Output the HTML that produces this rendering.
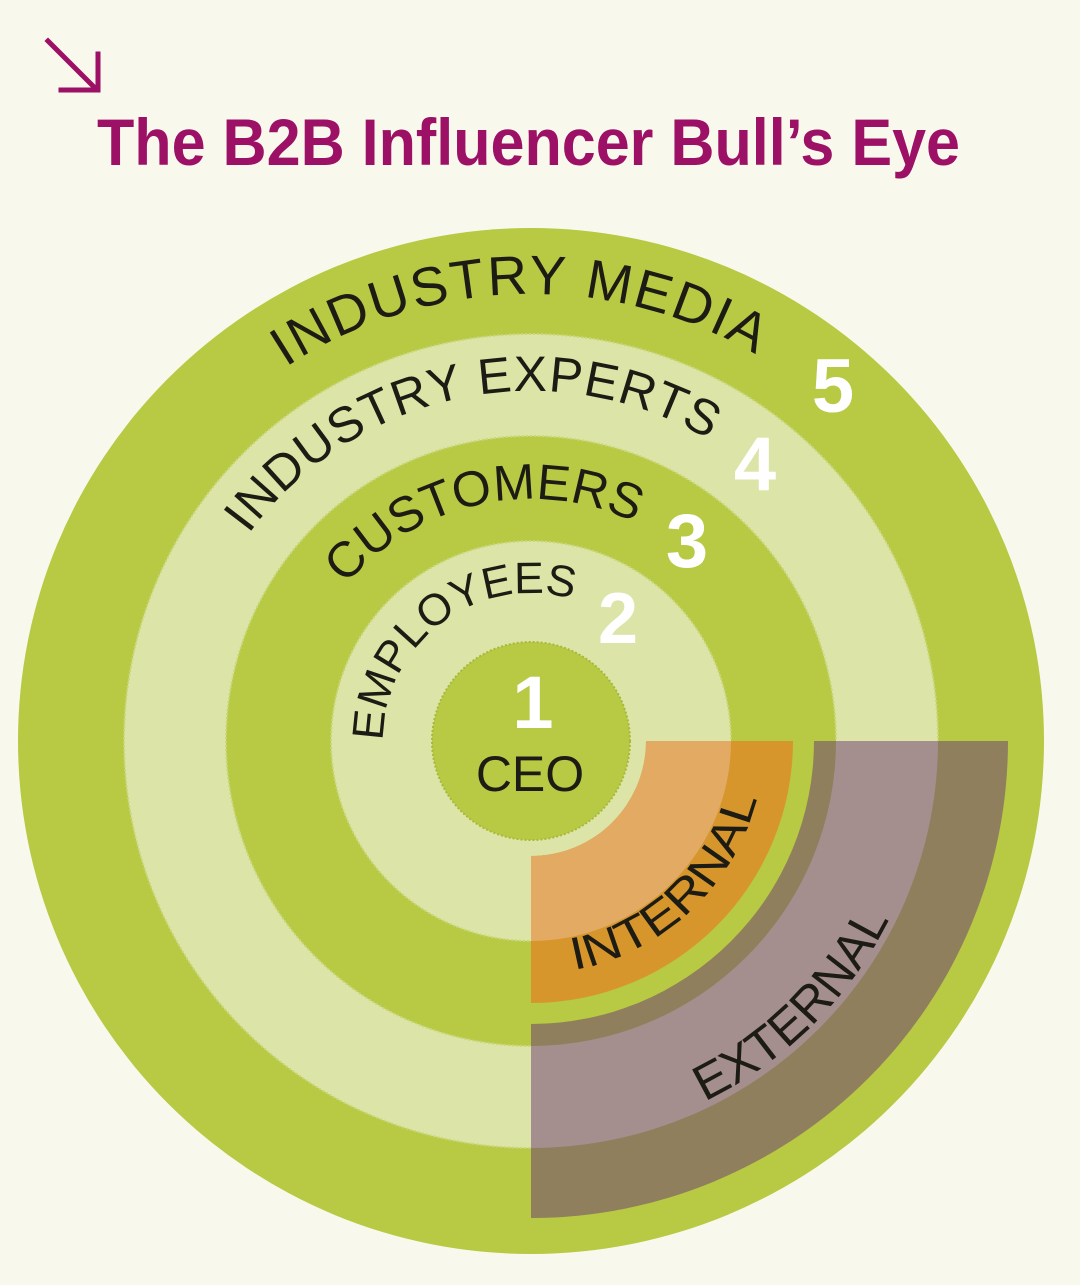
<!DOCTYPE html>
<html><head><meta charset="utf-8"><style>
html,body{margin:0;padding:0;background:#f8f9ec;}
svg{display:block;}
text{font-family:"Liberation Sans",sans-serif;}
</style></head><body>
<svg width="1080" height="1285" viewBox="0 0 1080 1285" xmlns="http://www.w3.org/2000/svg">
<rect width="1080" height="1285" fill="#f8f9ec"/>
<g stroke="#9c1065" stroke-width="5" fill="none" stroke-linecap="square">
<line x1="48" y1="41" x2="96" y2="89"/>
<polyline points="61,90 98,90 98,54"/>
</g>
<text x="97" y="165" font-size="66" fill="#9c1065" font-weight="bold" textLength="863" lengthAdjust="spacingAndGlyphs">The B2B Influencer Bull’s Eye</text>

<defs>
<path id="p5" d="M531,1188 A447,447 0 1 1 531,294 A447,447 0 1 1 531,1188"/>
<path id="p4" d="M531,1091 A350,350 0 1 1 531,391 A350,350 0 1 1 531,1091"/>
<path id="p3" d="M531,983 A242,242 0 1 1 531,499 A242,242 0 1 1 531,983"/>
<path id="p2" d="M531,889 A148,148 0 1 1 531,593 A148,148 0 1 1 531,889"/>
<path id="pi" d="M298,741 A233,233 0 1 0 764,741 A233,233 0 1 0 298,741"/>
<path id="pe" d="M131,741 A400,400 0 1 0 931,741 A400,400 0 1 0 131,741"/>
</defs>

<circle cx="531" cy="741" r="513" fill="#b8c944"/>
<circle cx="531" cy="741" r="407" fill="#dce5a7" stroke="#c9d67a" stroke-width="2" stroke-dasharray="2 2"/>
<circle cx="531" cy="741" r="305" fill="#b8c944" stroke="#c9d67a" stroke-width="2" stroke-dasharray="2 2"/>
<circle cx="531" cy="741" r="200" fill="#dce5a7" stroke="#c9d67a" stroke-width="2" stroke-dasharray="2 2"/>
<circle cx="531" cy="741" r="99" fill="#b8c944" stroke="#a8b83a" stroke-width="2" stroke-dasharray="2 2"/>

<path d="M793,741 A262,262 0 0 1 531,1003 L531,856 A115,115 0 0 0 646,741 Z" fill="#d7962c"/>
<path d="M731,741 A200,200 0 0 1 531,941 L531,856 A115,115 0 0 0 646,741 Z" fill="#e3aa63"/>
<path d="M1008,741 A477,477 0 0 1 531,1218 L531,1024 A283,283 0 0 0 814,741 Z" fill="#8f7f5d"/>
<path d="M938,741 A407,407 0 0 1 531,1148 L531,1046 A305,305 0 0 0 836,741 Z" fill="#a48f8e"/>

<g fill="#1c1c14">
<text font-size="55" letter-spacing="2"><textPath href="#p5" startOffset="49.6%" text-anchor="middle">INDUSTRY MEDIA</textPath></text>
<text font-size="50" letter-spacing="1"><textPath href="#p4" startOffset="46.8%" text-anchor="middle">INDUSTRY EXPERTS</textPath></text>
<text font-size="50"><textPath href="#p3" startOffset="46.6%" text-anchor="middle">CUSTOMERS</textPath></text>
<text font-size="44"><textPath href="#p2" startOffset="39.8%" text-anchor="middle" textLength="275" lengthAdjust="spacingAndGlyphs">EMPLOYEES</textPath></text>
<text font-size="46"><textPath href="#pi" startOffset="37%" text-anchor="middle" textLength="265" lengthAdjust="spacingAndGlyphs">INTERNAL</textPath></text>
<text font-size="50"><textPath href="#pe" startOffset="37.4%" text-anchor="middle">EXTERNAL</textPath></text>
<text x="530" y="791" font-size="50" text-anchor="middle">CEO</text>
</g>

<g fill="#ffffff" font-weight="bold" text-anchor="middle">
<text x="833" y="412" font-size="76">5</text>
<text x="755" y="490" font-size="76">4</text>
<text x="687" y="567" font-size="76">3</text>
<text x="618" y="643" font-size="72">2</text>
<text x="533" y="728" font-size="74">1</text>
</g>
</svg>
</body></html>
